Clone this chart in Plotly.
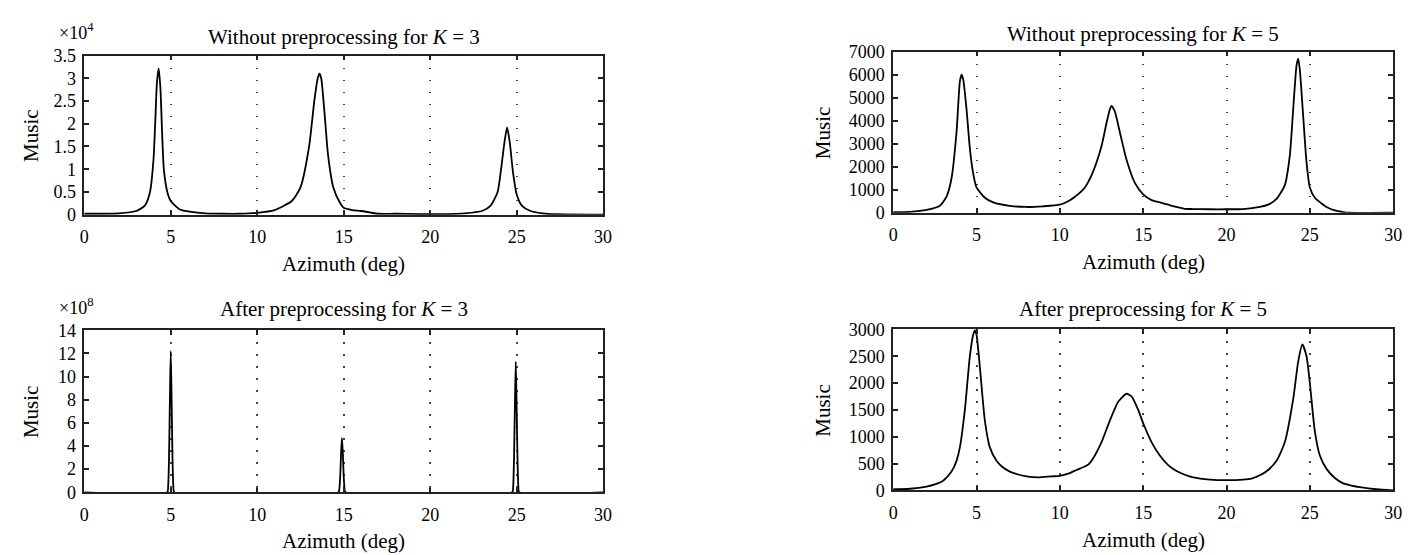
import plotly.graph_objects as go

# ---------------- data ----------------
# Panel A: Without preprocessing for K = 3  (Music, units of 1e4)
a_x = [0, 1, 2, 3, 3.5, 3.8, 4.0, 4.1, 4.2, 4.3, 4.4, 4.5, 4.6, 4.8, 5.0, 5.5, 6, 7, 8, 9,
       10, 11, 12, 12.5, 13, 13.3, 13.5, 13.6, 13.7, 13.9, 14.1, 14.4, 14.8, 15, 15.5, 16, 16.5, 17,
       18, 20, 22, 23, 23.5, 23.9, 24.1, 24.3, 24.45, 24.6, 24.8, 25.0, 25.3, 25.8, 26.5, 27.3, 30]
a_y = [0.02, 0.02, 0.03, 0.08, 0.2, 0.5, 1.2, 2.0, 2.9, 3.22, 2.8, 1.8, 1.0, 0.5, 0.3, 0.12, 0.07, 0.03, 0.02, 0.02,
       0.04, 0.1, 0.3, 0.6, 1.5, 2.5, 3.0, 3.1, 3.0, 2.2, 1.3, 0.6, 0.25, 0.15, 0.1, 0.08, 0.05, 0.02,
       0.02, 0.01, 0.03, 0.08, 0.2, 0.5, 1.0, 1.6, 1.92, 1.6, 0.9, 0.45, 0.2, 0.08, 0.03, 0.01, 0.0]

# Panel B: Without preprocessing for K = 5
b_x = [0, 1, 2, 2.8, 3.2, 3.5, 3.8, 4.0, 4.1, 4.2, 4.4, 4.6, 4.8, 5.0, 5.5, 6, 7, 8, 9, 10,
       10.5, 11, 11.5, 12, 12.5, 12.8, 13.0, 13.1, 13.3, 13.6, 14, 14.5, 15, 15.5, 16, 16.5, 17, 17.5,
       18, 19, 20, 21, 22, 22.5, 23, 23.5, 23.8, 24.0, 24.2, 24.3, 24.4, 24.6, 24.8, 25, 25.3, 25.7,
       26, 26.5, 27, 27.3, 30]
b_y = [20, 40, 120, 300, 700, 1500, 3500, 5700, 6000, 5800, 4500, 2800, 1700, 1100, 650, 450, 300, 250, 280, 350,
       500, 750, 1100, 1800, 2900, 3900, 4500, 4650, 4400, 3500, 2300, 1300, 800, 550, 450, 350, 250, 170,
       160, 150, 150, 160, 250, 350, 600, 1200, 2500, 4500, 6400, 6700, 6200, 4200, 2200, 1100, 650, 400,
       250, 100, 30, 0, 0]

# Panel C: After preprocessing for K = 3  (Music, units of 1e8)
c_x = [0, 4.8, 4.85, 4.9, 4.95, 5.0, 5.05, 5.1, 5.15, 5.2, 14.7, 14.75, 14.8, 14.85, 14.9, 14.95, 15.0, 15.05,
       15.1, 24.75, 24.8, 24.85, 24.9, 24.95, 25.0, 25.05, 25.1, 25.15, 30]
c_y = [0, 0, 0.5, 3.0, 8.0, 12.2, 8.0, 3.0, 0.5, 0, 0, 0.3, 1.4, 3.4, 4.7, 3.4, 1.4, 0.3,
       0, 0, 0.5, 3.0, 7.5, 11.3, 7.5, 3.0, 0.5, 0, 0]

# Panel D: After preprocessing for K = 5
d_x = [0, 1, 2, 2.5, 3, 3.5, 3.8, 4.0, 4.3, 4.6, 4.8, 4.9, 5.0, 5.2, 5.5, 5.8, 6.2, 6.5, 7, 8, 8.7,
       9.5, 10, 10.5, 11, 11.7, 12, 12.5, 13, 13.5, 14, 14.3, 14.7, 15, 15.5, 16, 16.5, 17, 17.5, 18,
       19, 20, 21, 21.5, 22, 22.5, 23, 23.5, 24, 24.3, 24.55, 24.8, 25, 25.3, 25.6, 26, 26.5, 27, 27.5,
       28, 29, 30]
d_y = [20, 30, 70, 110, 180, 350, 550, 800, 1500, 2500, 2900, 2980, 2900, 2300, 1300, 800, 550, 450, 350, 260, 240,
       260, 270, 310, 380, 480, 600, 900, 1300, 1650, 1800, 1750, 1500, 1250, 900, 650, 470, 360, 290, 240,
       200, 190, 200, 220, 280, 380, 550, 900, 1700, 2400, 2720, 2500, 2000, 1100, 650, 400, 230, 130, 90,
       60, 20, 0]

titles = ["Without preprocessing for <i>K</i> = 3", "Without preprocessing for <i>K</i> = 5",
          "After preprocessing for <i>K</i> = 3", "After preprocessing for <i>K</i> = 5"]
x_ticks = [0, 5, 10, 15, 20, 25, 30]
y_ranges = [[0, 3.5], [0, 7000], [0, 14], [0, 3000]]
y_ticks = [[0, 0.5, 1, 1.5, 2, 2.5, 3, 3.5],
           [0, 1000, 2000, 3000, 4000, 5000, 6000, 7000],
           [0, 2, 4, 6, 8, 10, 12, 14],
           [0, 500, 1000, 1500, 2000, 2500, 3000]]
multipliers = ["×10<sup>4</sup>", None, "×10<sup>8</sup>", None]

# ---------------- layout geometry (pixels) ----------------
W, H = 1413, 555
# (left, right, top, bottom) of each plot frame in px
frames = [(72, 596, 39, 204), (889, 1394, 35, 202), (72, 596, 324, 492), (889, 1394, 323, 490)]
title_gap = [19, 18, 22, 21]

FONT = "Liberation Serif"
FS_TXT = 21
FS_TICK = 18
fig = go.Figure()
series = [(a_x, a_y), (b_x, b_y), (c_x, c_y), (d_x, d_y)]

for i, ((xs, ys), (l, r, t, b)) in enumerate(zip(series, frames)):
    n = "" if i == 0 else str(i + 1)
    fig.add_trace(go.Scatter(x=xs, y=ys, mode="lines", xaxis="x" + n, yaxis="y" + n,
                             line=dict(color="black", width=1.8, shape="spline", smoothing=0.6),
                             showlegend=False, hoverinfo="skip"))
    ax = dict(domain=[l / W, r / W], anchor="y" + n, range=[0, 30], tickvals=x_ticks,
              showline=True, linecolor="#222", linewidth=1.5, mirror="ticks",
              ticks="inside", ticklen=5, tickcolor="#222", tickwidth=1.5,
              showgrid=True, gridcolor="#444", griddash="1.5px,10.5px", gridwidth=1.5,
              zeroline=False, ticklabelstandoff=5,
              tickfont=dict(family=FONT, size=FS_TICK, color="black"))
    ay = dict(domain=[1 - b / H, 1 - t / H], anchor="x" + n, range=y_ranges[i], tickvals=y_ticks[i],
              showline=True, linecolor="#222", linewidth=1.5, mirror="ticks",
              ticks="inside", ticklen=5, tickcolor="#222", tickwidth=1.5,
              showgrid=False, zeroline=False, ticklabelstandoff=3,
              tickfont=dict(family=FONT, size=FS_TICK, color="black"))
    fig.update_layout(**{"xaxis" + n: ax, "yaxis" + n: ay})
    cx = (l + r) / 2 / W
    # title
    fig.add_annotation(text=titles[i], x=cx, y=1 - (t - title_gap[i]) / H, xref="paper", yref="paper",
                       showarrow=False, font=dict(family=FONT, size=FS_TXT, color="black"),
                       xanchor="center", yanchor="middle")
    # x axis title
    fig.add_annotation(text="Azimuth (deg)", x=cx, y=1 - (b + 51) / H, xref="paper", yref="paper",
                       showarrow=False, font=dict(family=FONT, size=FS_TXT, color="black"),
                       xanchor="center", yanchor="middle")
    # y axis title
    fig.add_annotation(text="Music", x=(l - 54 if i % 2 == 0 else l - 71) / W, y=1 - (t + b) / 2 / H,
                       xref="paper", yref="paper", textangle=-90, showarrow=False,
                       font=dict(family=FONT, size=FS_TXT, color="black"),
                       xanchor="center", yanchor="middle")
    if multipliers[i]:
        fig.add_annotation(text=multipliers[i], x=(l - 8) / W, y=1 - (t - 25) / H, xref="paper", yref="paper",
                           showarrow=False, font=dict(family=FONT, size=FS_TICK, color="black"),
                           xanchor="center", yanchor="middle")

fig.update_layout(width=W, height=H, margin=dict(l=0, r=0, t=0, b=0),
                  paper_bgcolor="white", plot_bgcolor="white")
fig.write_html("out.html")
